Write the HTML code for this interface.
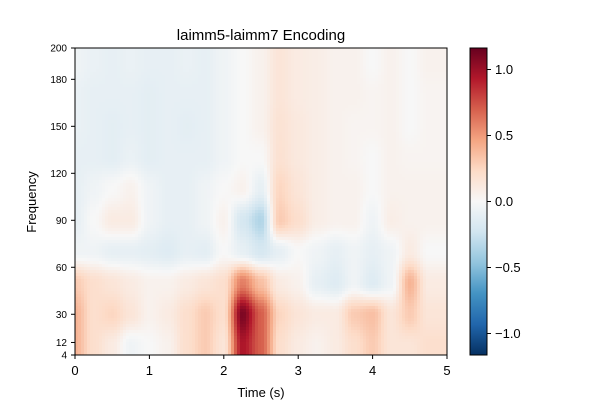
<!DOCTYPE html>
<html><head><meta charset="utf-8"><style>
body{margin:0;background:#fff;}
svg text{font-family:"Liberation Sans",sans-serif;fill:#000;}
</style></head><body>
<svg id="chart" width="600" height="400" viewBox="0 0 600 400" xmlns="http://www.w3.org/2000/svg">
<defs>
<clipPath id="clip"><rect x="75" y="48" width="372" height="307"/></clipPath>
<linearGradient id="cbgrad" x1="0" y1="1" x2="0" y2="0">
<stop offset="0" stop-color="#053061"/><stop offset="0.1" stop-color="#2166ac"/><stop offset="0.2" stop-color="#4393c3"/><stop offset="0.3" stop-color="#92c5de"/><stop offset="0.4" stop-color="#d1e5f0"/><stop offset="0.5" stop-color="#f7f7f7"/><stop offset="0.6" stop-color="#fddbc7"/><stop offset="0.7" stop-color="#f4a582"/><stop offset="0.8" stop-color="#d6604d"/><stop offset="0.9" stop-color="#b2182b"/><stop offset="1" stop-color="#67001f"/>
</linearGradient>
</defs>
<text x="261" y="40" font-size="15" text-anchor="middle">laimm5-laimm7 Encoding</text>
<g clip-path="url(#clip)"><g id="cells" shape-rendering="crispEdges"></g></g>
<rect x="75" y="48" width="372" height="307" fill="none" stroke="#000" stroke-width="1"/>
<g id="xaxis"></g>
<g id="yaxis"></g>
<text x="261" y="397" font-size="13" text-anchor="middle">Time (s)</text>
<text x="36" y="202" font-size="13" text-anchor="middle" transform="rotate(-90 36 202)">Frequency</text>
<rect x="470" y="48" width="17" height="307" fill="url(#cbgrad)" stroke="#000" stroke-width="1"/>
<g id="cbaxis"></g>
</svg>
<script>
const times=[0,0.25,0.5,0.75,1,1.25,1.5,1.75,2,2.25,2.5,2.75,3,3.25,3.5,3.75,4,4.25,4.5,4.75];
const freqs=[190,170,150,130,110,90,70,50,30,10];
const r0=[-.05,-.08,-.1,-.08,-.1,-.1,-.08,-.1,-.05,0,.05,.15,.1,.08,.05,.05,0,.05,0,.05];
const r1=[-.08,-.1,-.1,-.1,-.12,-.1,-.1,-.1,-.05,0,.05,.15,.1,.08,.05,.05,.03,.05,0,.03];
const r2=[-.08,-.1,-.12,-.1,-.12,-.1,-.12,-.1,-.05,0,.05,.17,.12,.08,.05,.03,.03,.05,0,.03];
const r3=[-.1,-.1,-.12,-.08,-.12,-.1,-.1,-.1,-.05,0,0,.18,.12,.08,.05,.03,0,.05,.03,.03];
const r4=[-.1,-.05,0,.05,-.05,-.1,-.1,-.05,0,.05,-.1,.25,.15,.08,.05,.05,0,.05,.05,.05];
const r5=[-.1,0,.1,.1,-.05,-.1,-.1,-.05,.05,-.2,-.35,.3,.2,.08,.05,.05,-.05,.08,.05,.05];
const r6=[-.05,-.05,-.1,-.1,-.12,-.15,-.1,-.12,0,-.1,-.2,-.1,0,-.05,-.1,-.05,-.1,-.05,.1,0];
const r7=[.3,.2,.15,.1,.05,.05,.1,.15,.2,.6,.35,.1,.05,-.1,-.15,-.05,-.15,-.05,.4,.1];
const r8=[.4,.2,.25,.15,.05,.1,.2,.3,.2,1.1,.7,.25,.15,.1,.1,.3,.35,.15,.3,.15];
const r9=[.4,.2,.1,-.05,0,.05,.2,.3,.15,.95,.7,.2,.1,.05,.1,.2,.3,.15,.15,.2];
const rows=[r0,r1,r2,r3,r4,r5,r6,r7,r8,r9];
const xTicks=[0,1,2,3,4,5];
const yTicks=[4,12,30,60,90,120,150,180,200];
const cbTicks=[1.0,0.5,0.0,-0.5,-1.0];
const cbLabels=["1.0","0.5","0.0","\u22120.5","\u22121.0"];
const vmax=1.163;

const NS="http://www.w3.org/2000/svg";
const xS=t=>75+t/5*372;
const yS=f=>355-(f-4)/196*307;
const xInv=x=>(x-75)/372*5;
const yInv=y=>4+(355-y)/307*196;
const cbY=v=>201.5-v/vmax*153.5;
const stops=[[5,48,97],[33,102,172],[67,147,195],[146,197,222],[209,229,240],[247,247,247],[253,219,199],[244,165,130],[214,96,77],[178,24,43],[103,0,31]];
function color(v){let n=(v/vmax+1)/2;n=Math.max(0,Math.min(1,n));const p=n*10,i=Math.min(9,Math.floor(p)),f=p-i;const a=stops[i],b=stops[i+1];return `rgb(${a.map((c,k)=>Math.round(c+(b[k]-c)*f)).join(',')})`;}
function mk(tag,attrs,parent){const e=document.createElementNS(NS,tag);for(const k in attrs)e.setAttribute(k,attrs[k]);parent.appendChild(e);return e;}
function locate(arr,v){
  const n=arr.length;const asc=arr[n-1]>arr[0];
  for(let i=0;i<n-1;i++){const a=arr[i],b=arr[i+1];const lo=Math.min(a,b),hi=Math.max(a,b);if(v>=lo&&v<=hi){return [i,(v-a)/(b-a)];}}
  const first=asc?v<arr[0]:v>arr[0];return first?[0,0]:[n-2,1];
}
const sm=f=>f*f*(3-2*f);
function sample(t,f){
  const [ci,cf]=locate(times,t);const [ri,rf]=locate(freqs,f);
  const a=rows[ri][ci],b=rows[ri][ci+1],c=rows[ri+1][ci],d=rows[ri+1][ci+1];
  const u=sm(cf),w=sm(rf);
  return (a*(1-u)+b*u)*(1-w)+(c*(1-u)+d*u)*w;
}
const cells=document.getElementById('cells');
const step=3;
for(let y=48;y<355;y+=step){
  for(let x=75;x<447;x+=step){
    const v=sample(xInv(x+step/2),yInv(y+step/2));
    const rc=mk('rect',{x:x,y:y,width:step,height:step,fill:color(v)},cells);
    
    
  }
}
const xa=document.getElementById('xaxis');
xTicks.forEach(t=>{
  const l=mk('line',{x1:xS(t),x2:xS(t),y1:355,y2:359,stroke:'#000'},xa);
  
  
  const tx=mk('text',{x:xS(t),y:375,'font-size':13,'text-anchor':'middle'},xa);tx.textContent=t;
  
  
});
const ya=document.getElementById('yaxis');
yTicks.forEach(f=>{
  const l=mk('line',{x1:71,x2:75,y1:yS(f),y2:yS(f),stroke:'#000'},ya);
  
  
  const tx=mk('text',{x:67,y:yS(f)+3.5,'font-size':10,'text-anchor':'end'},ya);tx.textContent=f;
  
  
});
const ca=document.getElementById('cbaxis');
cbTicks.forEach((v,i)=>{
  const l=mk('line',{x1:487,x2:491,y1:cbY(v),y2:cbY(v),stroke:'#000'},ca);
  
  
  const tx=mk('text',{x:495,y:cbY(v)+4.5,'font-size':13},ca);tx.textContent=cbLabels[i];
  
  
});
</script>
</body></html>
